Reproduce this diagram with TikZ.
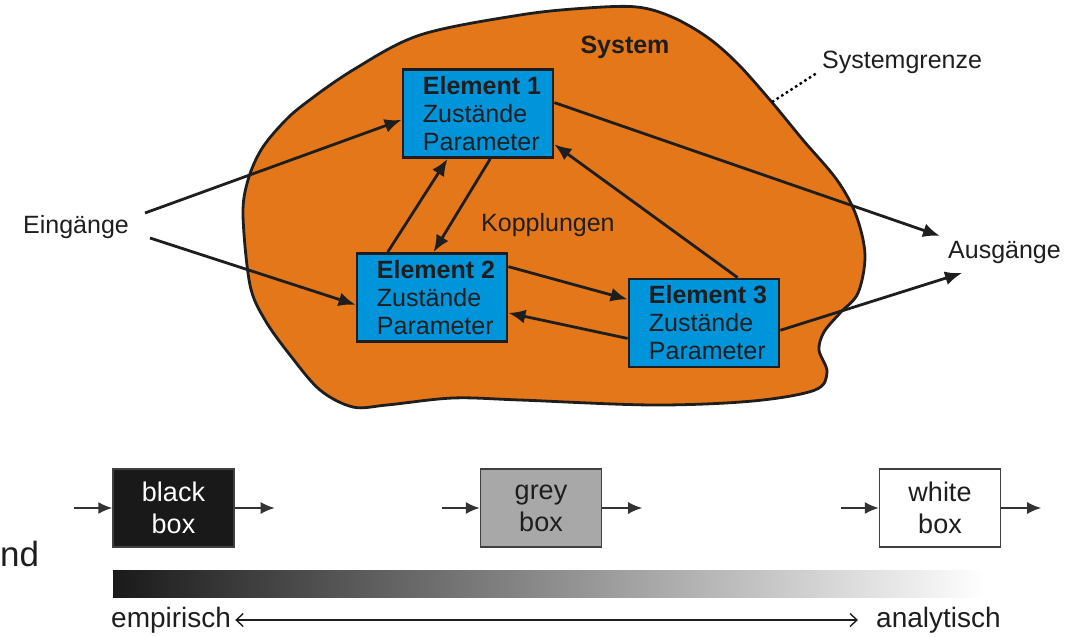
\documentclass[tikz,border=0pt]{standalone}
\usepackage{fontspec}
\setmainfont{Liberation Sans}
\usetikzlibrary{arrows.meta,calc}

\definecolor{sysorange}{RGB}{228,119,26}
\definecolor{elblue}{RGB}{0,148,218}
\definecolor{inkgrey}{RGB}{30,30,30}

\tikzset{
  element/.style={draw=inkgrey, line width=2.8pt, fill=elblue, minimum width=150pt,
    minimum height=88pt, inner sep=0pt, align=left, text=inkgrey,
    font=\fontsize{25}{28}\selectfont},
  link/.style={line width=2.8pt, draw=inkgrey, -{Latex[length=17pt,width=14pt]}},
  boxtype/.style={draw=black!75, line width=1.4pt, minimum width=121pt,
    minimum height=78pt, inner sep=0pt, align=center, font=\fontsize{27}{32}\selectfont},
  thinarrow/.style={line width=1.7pt, draw=black!80, -{Latex[length=14pt,width=12pt]}},
  lbl/.style={inner sep=0pt, text=inkgrey, font=\fontsize{25}{28}\selectfont}
}

\begin{document}
\begin{tikzpicture}[x=1pt,y=-1pt]
\useasboundingbox (0,0) rectangle (1084,637);

% system boundary
\draw[line width=2.8pt, draw=inkgrey, fill=sysorange] plot[smooth cycle, tension=0.55] coordinates {
  (243,215) (248,180) (261,150) (281,125) (303,105) (353,70) (420,35) (520,15)
  (587,8) (637,7) (672,17) (707,37) (737,63) (770,100) (803,140) (837,180)
  (856,215) (865,255) (858,293) (840,313) (824,332) (819,350) (827,372) (815,390)
  (753,401) (653,405) (520,400) (453,398) (387,405) (353,407) (320,390) (290,355)
  (265,320) (250,285)};

\node[lbl, font=\fontsize{25}{28}\selectfont\bfseries] (sys) at (625,47) {System};
\node[lbl, anchor=west] (grenze) at (822,62) {Systemgrenze};
\coordinate (rand) at (772,102);
\draw[line width=2.4pt, dash pattern=on 2.5pt off 3pt] (rand) -- ([xshift=-6pt]grenze.south west);

% elements
\node[element] (e1) at (478,113.5) {\hspace*{8pt}\textbf{Element 1}\\\hspace*{8pt}Zustände\\\hspace*{8pt}Parameter};
\node[element] (e2) at (432,297.5) {\hspace*{8pt}\textbf{Element 2}\\\hspace*{8pt}Zustände\\\hspace*{8pt}Parameter};
\node[element] (e3) at (704,323) {\hspace*{8pt}\textbf{Element 3}\\\hspace*{8pt}Zustände\\\hspace*{8pt}Parameter};
\node[lbl, anchor=west] (kopp) at (481,225) {Kopplungen};

% inputs and outputs
\node[lbl, anchor=west] (ein) at (23,227) {Eingänge};
\node[lbl, anchor=west] (aus) at (948,252) {Ausgänge};
\coordinate (ein1) at (145,213);
\coordinate (ein2) at (150,238);
\coordinate (aus1) at (940,236);
\coordinate (aus2) at (962,273);

\draw[link] (ein1) -- ($(e1.north west)!0.57!(e1.south west)$);
\draw[link] (ein2) -- ($(e2.north west)!0.58!(e2.south west)$);
\draw[link] ($(e1.north east)!0.38!(e1.south east)$) -- (aus1);
\draw[link] ($(e3.north east)!0.58!(e3.south east)$) -- (aus2);

% couplings
\draw[link] ($(e2.north west)!0.21!(e2.north east)$) -- ($(e1.south west)!0.30!(e1.south east)$);
\draw[link] ($(e1.south west)!0.58!(e1.south east)$) -- ($(e2.north west)!0.51!(e2.north east)$);
\draw[link] ($(e2.north east)!0.16!(e2.south east)$) -- ($(e3.north west)!0.24!(e3.south west)$);
\draw[link] ($(e3.north west)!0.67!(e3.south west)$) -- ($(e2.north east)!0.67!(e2.south east)$);
\draw[link] ($(e3.north west)!0.72!(e3.north east)$) -- ($(e1.north east)!0.84!(e1.south east)$);

% box types
\foreach \n/\x/\f/\t/\word in {bb/173.5/black!90/white/black, gb/541/black!34/inkgrey/grey, wb/940/white/inkgrey/white}{
  \node[boxtype, fill=\f, text=\t] (\n) at (\x,508) {\word\\box};
  \draw[thinarrow] ([xshift=-38pt]\n.west) -- (\n.west);
  \draw[thinarrow] (\n.east) -- ([xshift=40pt]\n.east);
}

\shade[left color=black!90, right color=white] (113,570) rectangle (985,597);

\node[lbl, anchor=west, font=\fontsize{28}{30}\selectfont] (emp) at (111,620) {empirisch};
\node[lbl, anchor=west, font=\fontsize{28}{30}\selectfont] (ana) at (876,620) {analytisch};
\draw[line width=1.4pt, draw=inkgrey, {Straight Barb[length=7pt,width=13pt]}-{Straight Barb[length=7pt,width=13pt]}]
  ([xshift=4pt]emp.east) -- ([xshift=-18pt]ana.west);

\node[inner sep=0pt, anchor=base west, text=inkgrey, font=\fontsize{35}{38}\selectfont] (nd) at (0,566) {nd};
\end{tikzpicture}
\end{document}
